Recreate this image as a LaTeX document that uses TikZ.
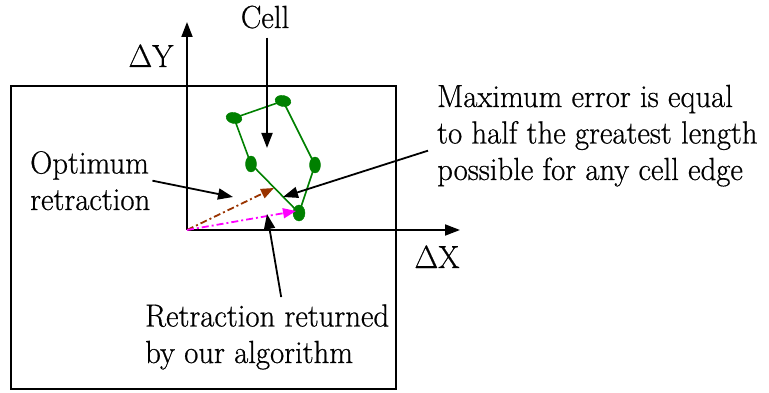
\documentclass[tikz,border=0pt]{standalone}
\usepackage{fontspec}
\newfontfamily\lblfont{Latin Modern Roman}[FakeBold=0.6,FakeStretch=0.96]
\usetikzlibrary{arrows.meta,positioning,shapes.geometric}
\definecolor{cellgreen}{RGB}{0,128,0}
\definecolor{optbrown}{RGB}{153,51,0}
\definecolor{oursmag}{RGB}{255,0,255}
\tikzset{
  lbl/.style={inner sep=0pt, align=left, font=\lblfont\fontsize{32}{36.5}\selectfont},
  arr/.style={-{Triangle[length=15pt,width=11pt]}, line width=1.8pt, draw=black},
  vtx/.style={ellipse, fill=cellgreen, draw=cellgreen, inner sep=0pt},
  celledge/.style={draw=cellgreen, line width=1.6pt},
  retr/.style={dash pattern=on 7pt off 3pt on 2pt off 3pt, line width=1.8pt,
    -{Triangle[length=13pt,width=10pt]}}
}

\begin{document}
\begin{tikzpicture}[x=1pt, y=-1pt]
\useasboundingbox (0,0) rectangle (769,393);

% frame and axes
\draw[line width=1.8pt] (11,86) rectangle (396,389);
\coordinate (o) at (187,230);
\coordinate (ytip) at (187,22);
\coordinate (xtip) at (460,230);
\draw[arr] (o) -- (ytip);
\draw[arr] (o) -- (xtip);
\node[lbl, anchor=base] (dy) at (151,67) {ΔY};
\node[lbl, anchor=base] (dx) at (437,268) {ΔX};

% the cell
\node[vtx, minimum width=16pt, minimum height=11pt, rotate=-12] (v1) at (234,118) {};
\node[vtx, minimum width=16pt, minimum height=11pt, rotate=-12] (v2) at (283,101) {};
\node[vtx, minimum width=11pt, minimum height=16pt] (v3) at (315,165) {};
\node[vtx, minimum width=12pt, minimum height=16pt] (v4) at (299,213) {};
\node[vtx, minimum width=11pt, minimum height=16pt] (v5) at (251,164) {};
\draw[celledge] (v1.center) -- (v2.center) -- (v3.center) -- (v4.center)
  -- (v5.center) -- cycle;

% retractions
\coordinate (opt) at (274,188);
\coordinate (ours) at (296,211);
\draw[retr, optbrown] (o) -- (opt);
\draw[retr, oursmag] (o) -- (ours);

% labels (base = last line)
\node[lbl, anchor=base] (cell) at (265,28) {Cell};
\coordinate (celltip) at (267,148);
\draw[arr] ([xshift=2pt,yshift=-9pt]cell.south) -- (celltip);

\node[lbl, anchor=base west] (optlbl) at (30,210) {Optimum\\retraction};
\coordinate (opttip) at (233,197);
\draw[arr] ([xshift=2pt]optlbl.east) -- (opttip);

\node[lbl, anchor=base west] (errlbl) at (437,180) {Maximum error is equal\\
to half the greatest length\\possible for any cell edge};
\coordinate (errtip) at (283,197);
\draw[arr] ([xshift=-9pt,yshift=-15pt]errlbl.west) -- (errtip);

\node[lbl, anchor=base west] (retlbl) at (145,363) {Retraction returned\\
by our algorithm};
\coordinate (rettip) at (267,214);
\draw[arr] ([xshift=14pt,yshift=7pt]retlbl.north) -- (rettip);
\end{tikzpicture}
\end{document}
